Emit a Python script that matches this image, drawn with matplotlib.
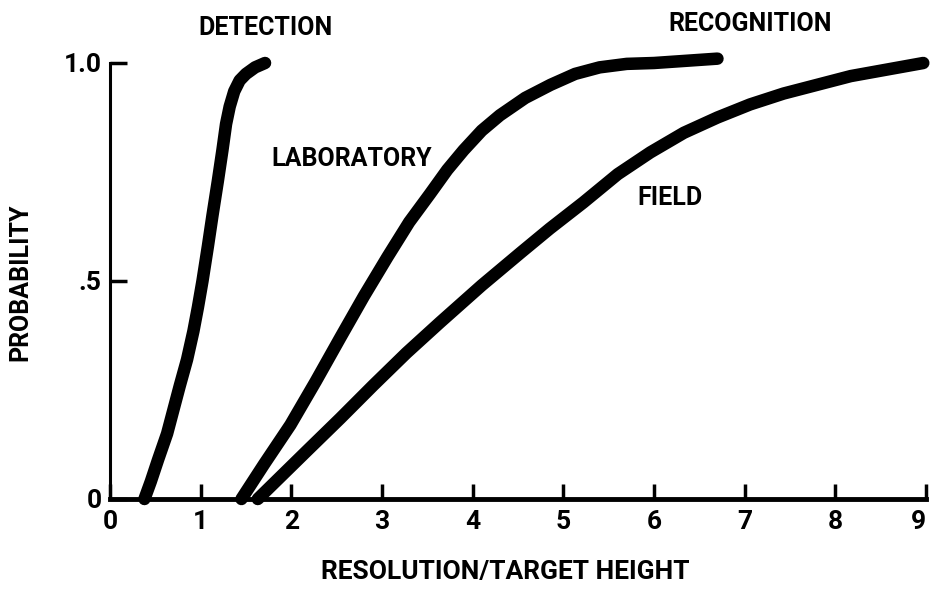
import matplotlib
matplotlib.use("Agg")
import matplotlib.pyplot as plt

plt.rcParams['font.family'] = ['Roboto', 'DejaVu Sans']
plt.rcParams['font.weight'] = 'bold'

# curves
det_x = [0.38, 0.45, 0.53, 0.63, 0.70, 0.77, 0.85, 0.92, 0.97, 1.02, 1.08,
         1.13, 1.19, 1.24, 1.28, 1.32, 1.37, 1.43, 1.50, 1.60, 1.71]
det_y = [0.00, 0.04, 0.09, 0.15, 0.205, 0.26, 0.32, 0.385, 0.44, 0.50, 0.58,
         0.65, 0.73, 0.80, 0.86, 0.90, 0.935, 0.96, 0.975, 0.99, 1.00]

lab_x = [1.45, 1.70, 1.99, 2.27, 2.54, 2.80, 3.06, 3.30, 3.53, 3.72, 3.90,
         4.10, 4.30, 4.58, 4.86, 5.13, 5.40, 5.70, 6.00, 6.35, 6.70]
lab_y = [0.00, 0.08, 0.17, 0.27, 0.37, 0.465, 0.555, 0.635, 0.70, 0.755, 0.80,
         0.845, 0.88, 0.92, 0.95, 0.975, 0.99, 0.998, 1.00, 1.005, 1.01]

fld_x = [1.63, 1.90, 2.17, 2.54, 2.90, 3.27, 3.64, 4.10, 4.53, 4.85, 5.22,
         5.60, 5.96, 6.33, 6.70, 7.06, 7.43, 7.80, 8.17, 8.57, 8.97]
fld_y = [0.00, 0.055, 0.11, 0.185, 0.26, 0.335, 0.405, 0.49, 0.565, 0.62, 0.68,
         0.745, 0.795, 0.84, 0.875, 0.905, 0.93, 0.95, 0.97, 0.985, 1.00]

xticks = [0, 1, 2, 3, 4, 5, 6, 7, 8, 9]
yticks = [0, 0.5, 1.0]
ylabels = ['0', '.5', '1.0']

fig = plt.figure(figsize=(9.33, 6.06), dpi=100)
ax = fig.add_axes([110/933, 1 - 499/606, 816/933, 436/606])

for xs, ys in [(det_x, det_y), (lab_x, lab_y), (fld_x, fld_y)]:
    ax.plot(xs, ys, color='black', lw=9, solid_capstyle='round',
            solid_joinstyle='round', clip_on=False)

ax.set_xlim(0, 9)
ax.set_ylim(0, 1.0)
ax.spines['top'].set_visible(False)
ax.spines['right'].set_visible(False)
ax.spines['bottom'].set_linewidth(3.5)
ax.spines['left'].set_linewidth(2.2)

ax.set_xticks(xticks)
ax.set_xticklabels([str(t) for t in xticks], fontsize=19)
ax.set_yticks(yticks)
ax.set_yticklabels(ylabels, fontsize=19)
ax.tick_params(axis='x', direction='in', length=11, width=2.5, pad=8)
ax.tick_params(axis='y', direction='in', length=12, width=2.5, pad=6)
# last x label sits right against the figure edge, as in the scan
ax.get_xticklabels()[-1].set_ha('right')
ax.get_xticklabels()[-1].set_x(9.07)

ax.text(1.71, 1.08, 'DETECTION', fontsize=18, ha='center', va='center')
ax.text(7.06, 1.09, 'RECOGNITION', fontsize=18, ha='center', va='center')
ax.text(2.67, 0.78, 'LABORATORY', fontsize=18, ha='center', va='center')
ax.text(6.18, 0.69, 'FIELD', fontsize=18, ha='center', va='center')

fig.text(20/933, 1 - 282/606, 'PROBABILITY', rotation=90, fontsize=18,
         ha='center', va='center')
fig.text(505/933, 1 - 572/606, 'RESOLUTION/TARGET HEIGHT', fontsize=19,
         ha='center', va='center')

fig.savefig('out.png', dpi=100)
